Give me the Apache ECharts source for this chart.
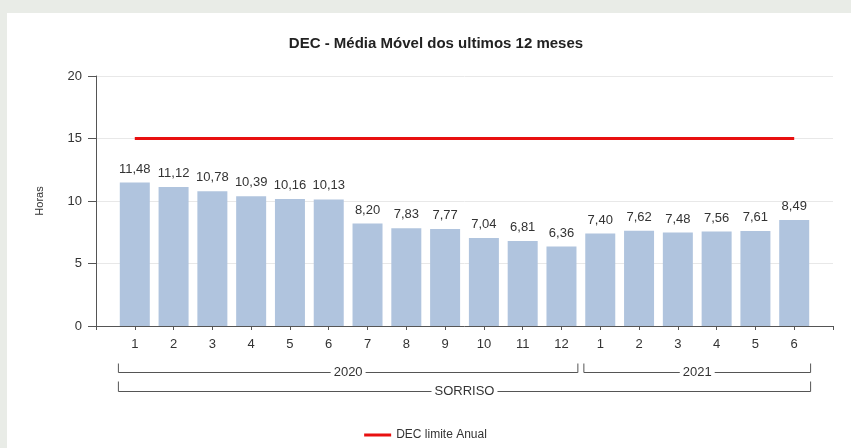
<!DOCTYPE html>
<html>
<head>
<meta charset="utf-8">
<script src="https://cdn.jsdelivr.net/npm/echarts@6/dist/echarts.min.js"></script>
<style>
  html, body { margin: 0; padding: 0; background: #e9ece7; }
  #card { position: absolute; left: 7px; top: 13px; width: 844px; height: 435px; background: #fff; }
  #chart { position: absolute; left: 0; top: 0; width: 851px; height: 448px; }
</style>
</head>
<body>
<div id="card"></div>
<div id="chart"></div>
<script>
// meses (rótulos do eixo x)
var months = ['1', '2', '3', '4', '5', '6', '7', '8', '9', '10', '11', '12', '1', '2', '3', '4', '5', '6'];
// DEC - média móvel 12 meses (horas)
var decValues = [11.48, 11.12, 10.78, 10.39, 10.16, 10.13, 8.20, 7.83, 7.77, 7.04, 6.81, 6.36, 7.40, 7.62, 7.48, 7.56, 7.61, 8.49];
// limite anual
var limitValues = [15, 15, 15, 15, 15, 15, 15, 15, 15, 15, 15, 15, 15, 15, 15, 15, 15, 15];
// agrupamentos do eixo x
var yearGroups = [{ name: '2020', from: 0, to: 11 }, { name: '2021', from: 12, to: 17 }];
var cityGroups = [{ name: 'SORRISO', from: 0, to: 17 }];
var yTicks = [0, 5, 10, 15, 20];

var font = 'Liberation Sans, Arial, sans-serif';
var myChart = echarts.init(document.getElementById('chart'));

var barData = decValues.map(function (v, i) { return [i, v]; });
var lineData = limitValues.map(function (v, i) { return [i, v]; });

var option = {
    animation: false,
    backgroundColor: 'transparent',
    textStyle: { fontFamily: font },
    title: {
        text: 'DEC - Média Móvel dos ultimos 12 meses',
        left: 431,
        textAlign: 'center',
        top: 31,
        textStyle: { fontSize: 15, fontWeight: 'bold', color: '#222', fontFamily: font }
    },
    legend: {
        data: ['DEC limite Anual'],
        left: 'center',
        top: 424,
        icon: 'rect',
        itemWidth: 27,
        itemHeight: 3,
        itemGap: 5,
        textStyle: { fontSize: 12, color: '#333', fontFamily: font }
    },
    grid: { left: 96, right: 18, top: 76, bottom: 122 },
    xAxis: {
        type: 'value',
        min: -1,
        max: 18,
        interval: 1,
        axisLine: { onZero: false, lineStyle: { color: '#555', width: 1 } },
        axisTick: { length: 4, lineStyle: { color: '#555' } },
        splitLine: { show: false },
        axisLabel: {
            fontSize: 13,
            color: '#333',
            margin: 12,
            formatter: function (v) {
                return (v >= 0 && v < months.length) ? months[v] : '';
            }
        }
    },
    yAxis: {
        type: 'value',
        min: yTicks[0],
        max: yTicks[yTicks.length - 1],
        interval: 5,
        name: 'Horas',
        nameLocation: 'middle',
        nameGap: 51,
        nameTextStyle: { fontSize: 11, color: '#333' },
        axisLine: { show: true, onZero: false, lineStyle: { color: '#555', width: 1 } },
        axisTick: { show: true, length: 8, lineStyle: { color: '#555' } },
        axisLabel: { fontSize: 13, color: '#333', margin: 14 },
        splitLine: { lineStyle: { color: '#e8e8e8' } }
    },
    series: [
        {
            name: 'DEC',
            type: 'bar',
            data: barData,
            barWidth: 30,
            itemStyle: { color: '#b0c4de' },
            label: {
                show: true,
                position: 'top',
                distance: 7,
                fontSize: 13,
                color: '#333',
                formatter: function (p) { return p.value[1].toFixed(2).replace('.', ','); }
            }
        },
        {
            name: 'DEC limite Anual',
            type: 'line',
            data: lineData,
            symbol: 'none',
            lineStyle: { color: '#e81010', width: 3 },
            itemStyle: { color: '#e81010' }
        }
    ]
};
myChart.setOption(option);

// colchetes de agrupamento abaixo do eixo x
function bracket(g, y, h, inset) {
    var x1 = myChart.convertToPixel({ xAxisIndex: 0 }, g.from - 0.5) + inset;
    var x2 = myChart.convertToPixel({ xAxisIndex: 0 }, g.to + 0.5) - inset;
    return [
        {
            type: 'polyline',
            shape: { points: [[x1, y - h], [x1, y], [x2, y], [x2, y - h]] },
            style: { stroke: '#555', lineWidth: 1, fill: null }
        },
        {
            type: 'text',
            x: (x1 + x2) / 2,
            y: y,
            style: {
                text: g.name,
                fontSize: 13,
                fontFamily: font,
                fill: '#333',
                align: 'center',
                verticalAlign: 'middle',
                backgroundColor: '#fff',
                padding: [0, 3]
            }
        }
    ];
}

var elements = [];
yearGroups.forEach(function (g) { elements = elements.concat(bracket(g, 372.5, 9, 3)); });
cityGroups.forEach(function (g) { elements = elements.concat(bracket(g, 391.5, 10, 3)); });
myChart.setOption({ graphic: elements });
</script>
</body>
</html>
